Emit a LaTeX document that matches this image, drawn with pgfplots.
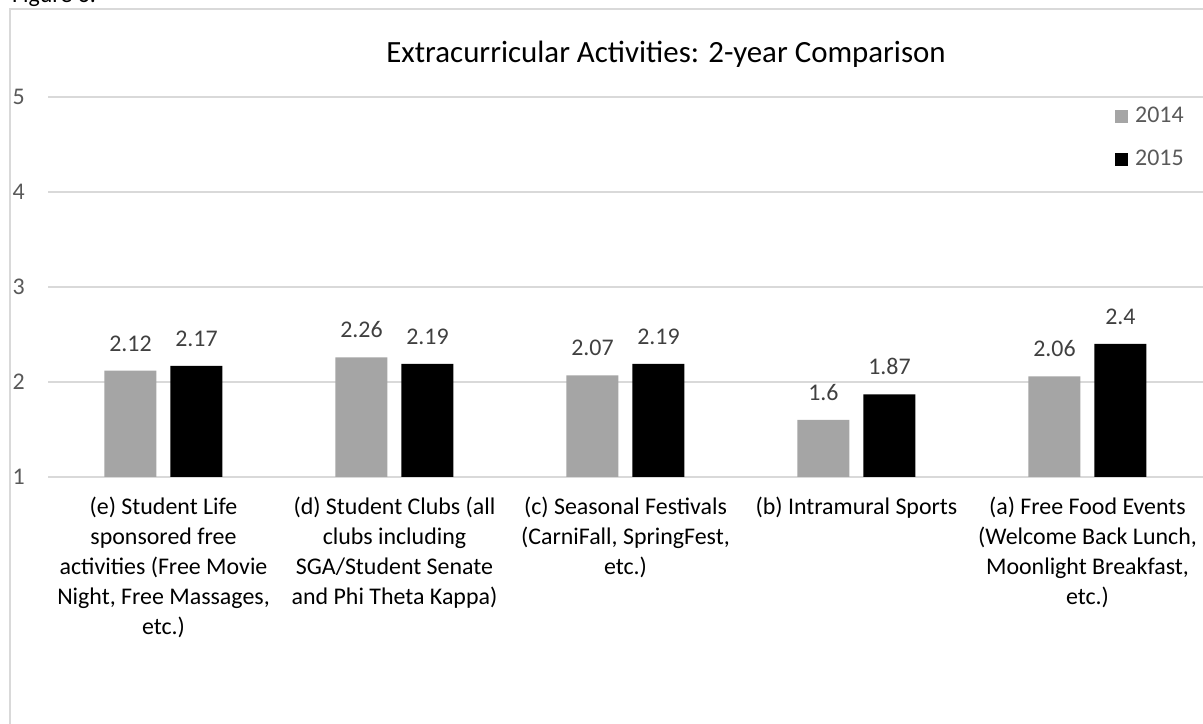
\documentclass[border=0pt]{standalone}
\usepackage{pgfplots}
\pgfplotsset{compat=1.18}
\usepackage{fontspec}
\setmainfont{Carlito}
\definecolor{gridc}{HTML}{D9D9D9}
\definecolor{c2014}{HTML}{A5A5A5}
\definecolor{c2015}{HTML}{000000}
\definecolor{lab}{HTML}{404040}
\definecolor{tick}{HTML}{595959}
\newcommand{\lbl}{\fontsize{24}{30}\selectfont}
\begin{document}
\begin{tikzpicture}[x=1bp,y=1bp]
\useasboundingbox (0,0) rectangle (1203,724);
% chart frame (runs off the right and bottom edge)
\draw[gridc, line width=1.3bp] (10,-40) rectangle (1260,715);
\node[anchor=base west, inner sep=0, font=\lbl] at (12,721) {Figure 6.};
\node[anchor=base, inner sep=0, font=\fontsize{31}{37}\selectfont] at (666,661)
  {Extracurricular Activities: 2-year Comparison};
\begin{axis}[
    at={(48bp,247bp)}, anchor=south west,
    scale only axis,
    width=1155bp, height=380bp,
    xmin=-0.5, xmax=4.5,
    ymin=1, ymax=5,
    ybar=14bp, bar width=52bp,
    axis line style={draw=none},
    major tick length=0pt,
    ytick={1,2,3,4,5},
    ymajorgrids,
    major grid style={draw=gridc, line width=1.3bp},
    xtick={0,1,2,3,4},
    xticklabels={
      {(e) Student Life\\sponsored free\\activities (Free Movie\\Night, Free Massages,\\etc.)},
      {(d) Student Clubs (all\\clubs including\\SGA/Student Senate\\and Phi Theta Kappa)},
      {(c) Seasonal Festivals\\(CarniFall, SpringFest,\\etc.)},
      {(b) Intramural Sports},
      {(a) Free Food Events\\(Welcome Back Lunch,\\Moonlight Breakfast,\\etc.)}},
    xticklabel style={align=center, anchor=north, inner sep=0pt, yshift=-20bp, font=\lbl, text=black},
    yticklabel style={anchor=east, inner sep=0pt, xshift=-23bp, font=\lbl, text=tick},
    /pgf/number format/assume math mode=true,
    nodes near coords,
    every node near coord/.append style={anchor=south, inner sep=0pt, yshift=19bp, font=\lbl, text=lab},
    legend image code/.code={\fill[#1] (0bp,-8bp) rectangle (13bp,5bp);},
    legend style={at={(rel axis cs:0.9238,0.974)}, anchor=north west,
      draw=none, fill=none, inner sep=0pt, font=\lbl, text=tick,
      row sep=28bp,
      nodes={inner sep=0pt, text height=15bp, text depth=0pt},
      /tikz/every odd column/.append style={column sep=7bp}},
    legend cell align=left,
  ]
  \addplot[fill=c2014, draw=none] coordinates {(0,2.12) (1,2.26) (2,2.07) (3,1.6) (4,2.06)};
  \addplot[fill=c2015, draw=none] coordinates {(0,2.17) (1,2.19) (2,2.19) (3,1.87) (4,2.4)};
  \legend{2014,2015}
\end{axis}
\end{tikzpicture}
\end{document}
